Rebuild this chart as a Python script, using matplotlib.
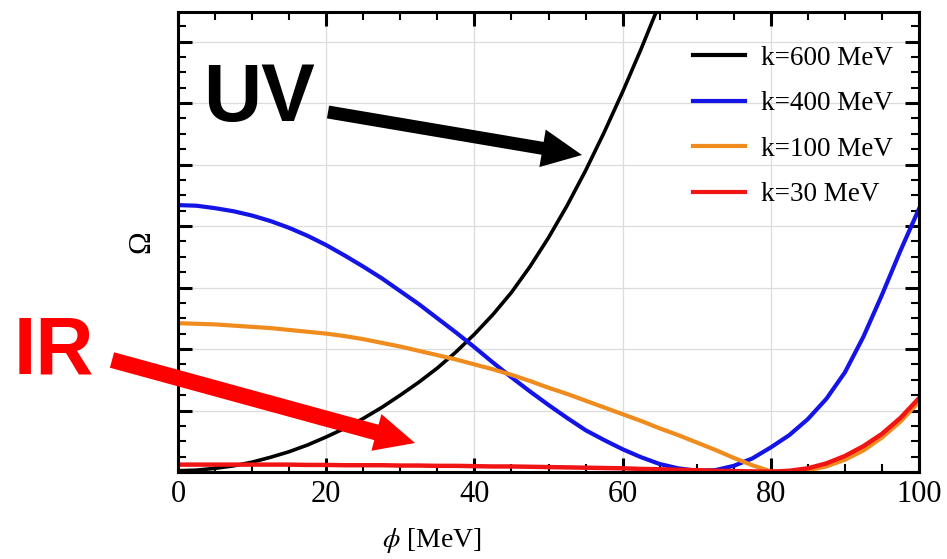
import matplotlib
matplotlib.use('Agg')
import matplotlib.pyplot as plt
from matplotlib.patches import FancyArrow
from matplotlib.ticker import MultipleLocator

# values (Omega in units of one major y tick)
phi = [0, 2.5, 5, 7.5, 10, 12.5, 15, 17.5, 20, 22.5, 25, 27.5, 30, 32.5,
       35, 37.5, 40, 42.5, 45, 47.5, 50, 52.5, 55, 57.5, 60, 62.5, 65, 67.5,
       70, 72.5, 75, 77.5, 80, 82.5, 85, 87.5, 90, 92.5, 95, 97.5, 100]
phi_600 = phi[:27]
omega_600 = [0.02, 0.03, 0.06, 0.10, 0.16, 0.24, 0.33, 0.44, 0.57, 0.71,
             0.87, 1.05, 1.25, 1.46, 1.69, 1.95, 2.24, 2.56, 2.92, 3.34,
             3.81, 4.33, 4.90, 5.52, 6.18, 6.88, 7.62]
omega_400 = [4.34, 4.33, 4.29, 4.24, 4.17, 4.08, 3.97, 3.84, 3.69, 3.52,
             3.34, 3.15, 2.94, 2.73, 2.50, 2.27, 2.03, 1.78, 1.54, 1.31,
             1.09, 0.88, 0.68, 0.52, 0.37, 0.24, 0.13, 0.06, 0.02, 0.03,
             0.10, 0.22, 0.40, 0.60, 0.86, 1.19, 1.62, 2.20, 2.88, 3.60, 4.28]
omega_100 = [2.42, 2.41, 2.40, 2.38, 2.36, 2.34, 2.31, 2.28, 2.25, 2.21,
             2.16, 2.10, 2.04, 1.97, 1.90, 1.83, 1.75, 1.67, 1.58, 1.48,
             1.37, 1.27, 1.16, 1.05, 0.94, 0.83, 0.71, 0.60, 0.48, 0.36,
             0.23, 0.11, 0.01, 0.0, 0.03, 0.09, 0.20, 0.35, 0.56, 0.82, 1.14]
omega_30 = [0.12, 0.12, 0.12, 0.12, 0.12, 0.12, 0.12, 0.115, 0.115, 0.11,
            0.11, 0.11, 0.105, 0.105, 0.10, 0.10, 0.095, 0.09, 0.09, 0.085,
            0.08, 0.075, 0.07, 0.065, 0.06, 0.05, 0.045, 0.035, 0.03, 0.02,
            0.015, 0.01, 0.005, 0.02, 0.06, 0.14, 0.26, 0.42, 0.62, 0.88, 1.20]

labels = ['k=600 MeV', 'k=400 MeV', 'k=100 MeV', 'k=30 MeV']
colors = ['black', '#1414e6', '#f08c1e', '#f01414']

plt.rcParams['font.family'] = ['Liberation Serif', 'DejaVu Serif']
plt.rcParams['mathtext.fontset'] = 'stix'

W, H = 947, 559
fig = plt.figure(figsize=(W / 100, H / 100), dpi=100)
ax = fig.add_axes([178 / W, 1 - 472 / H, 741 / W, 460 / H])

ax.plot(phi_600, omega_600, color=colors[0], lw=2.6, label=labels[0])
ax.plot(phi, omega_400, color=colors[1], lw=3.0, label=labels[1])
ax.plot(phi, omega_100, color=colors[2], lw=3.0, label=labels[2])
ax.plot(phi, omega_30, color=colors[3], lw=3.2, label=labels[3])

ax.set_xlim(0, 100)
ax.set_ylim(0, 7.48)
ax.xaxis.set_major_locator(MultipleLocator(20))
ax.xaxis.set_minor_locator(MultipleLocator(5))
ax.yaxis.set_major_locator(MultipleLocator(1))
ax.yaxis.set_minor_locator(MultipleLocator(0.25))
ax.set_yticklabels([])
ax.tick_params(which='both', direction='in', top=True, right=True)
ax.tick_params(which='major', length=10, width=2.2, labelsize=22, pad=6)
ax.tick_params(which='minor', length=5.5, width=1.5)
ax.grid(True, which='major', color='#dcdcdc', lw=0.9)
for s in ax.spines.values():
    s.set_linewidth(2.2)

ax.set_xlabel(r'$\phi$ [MeV]', fontsize=20)
ax.xaxis.set_label_coords((432 - 178) / 741, -0.118)
ax.set_ylabel('Ω', fontsize=22)
ax.yaxis.set_label_coords(-0.029, 0.5)

leg = ax.legend(loc='upper right', bbox_to_anchor=(0.998, 0.98),
                frameon=False, fontsize=19.5, handlelength=1.9,
                handletextpad=0.6, labelspacing=0.76)
for h in leg.legend_handles:
    h.set_linewidth(3)

# overlay in pixel units for the big labels and arrows
ov = fig.add_axes([0, 0, 1, 1], zorder=5)
ov.set_xlim(0, W)
ov.set_ylim(H, 0)
ov.axis('off')
ov.patch.set_alpha(0)

ov.text(203, 121, 'UV', fontsize=58, fontweight='bold', color='black',
        family='Liberation Sans', ha='left', va='baseline')
ov.text(14, 373, 'IR', fontsize=58, fontweight='bold', color='#ff0000',
        family='Liberation Sans', ha='left', va='baseline')

ov.add_patch(FancyArrow(328, 112, 582 - 328, 155 - 112, width=13,
                        head_width=38, head_length=40,
                        length_includes_head=True, color='black', lw=0))
ov.add_patch(FancyArrow(112, 360, 415 - 112, 443 - 360, width=16,
                        head_width=38, head_length=40,
                        length_includes_head=True, color='#ff0000', lw=0))

fig.savefig('out.png', dpi=100)
